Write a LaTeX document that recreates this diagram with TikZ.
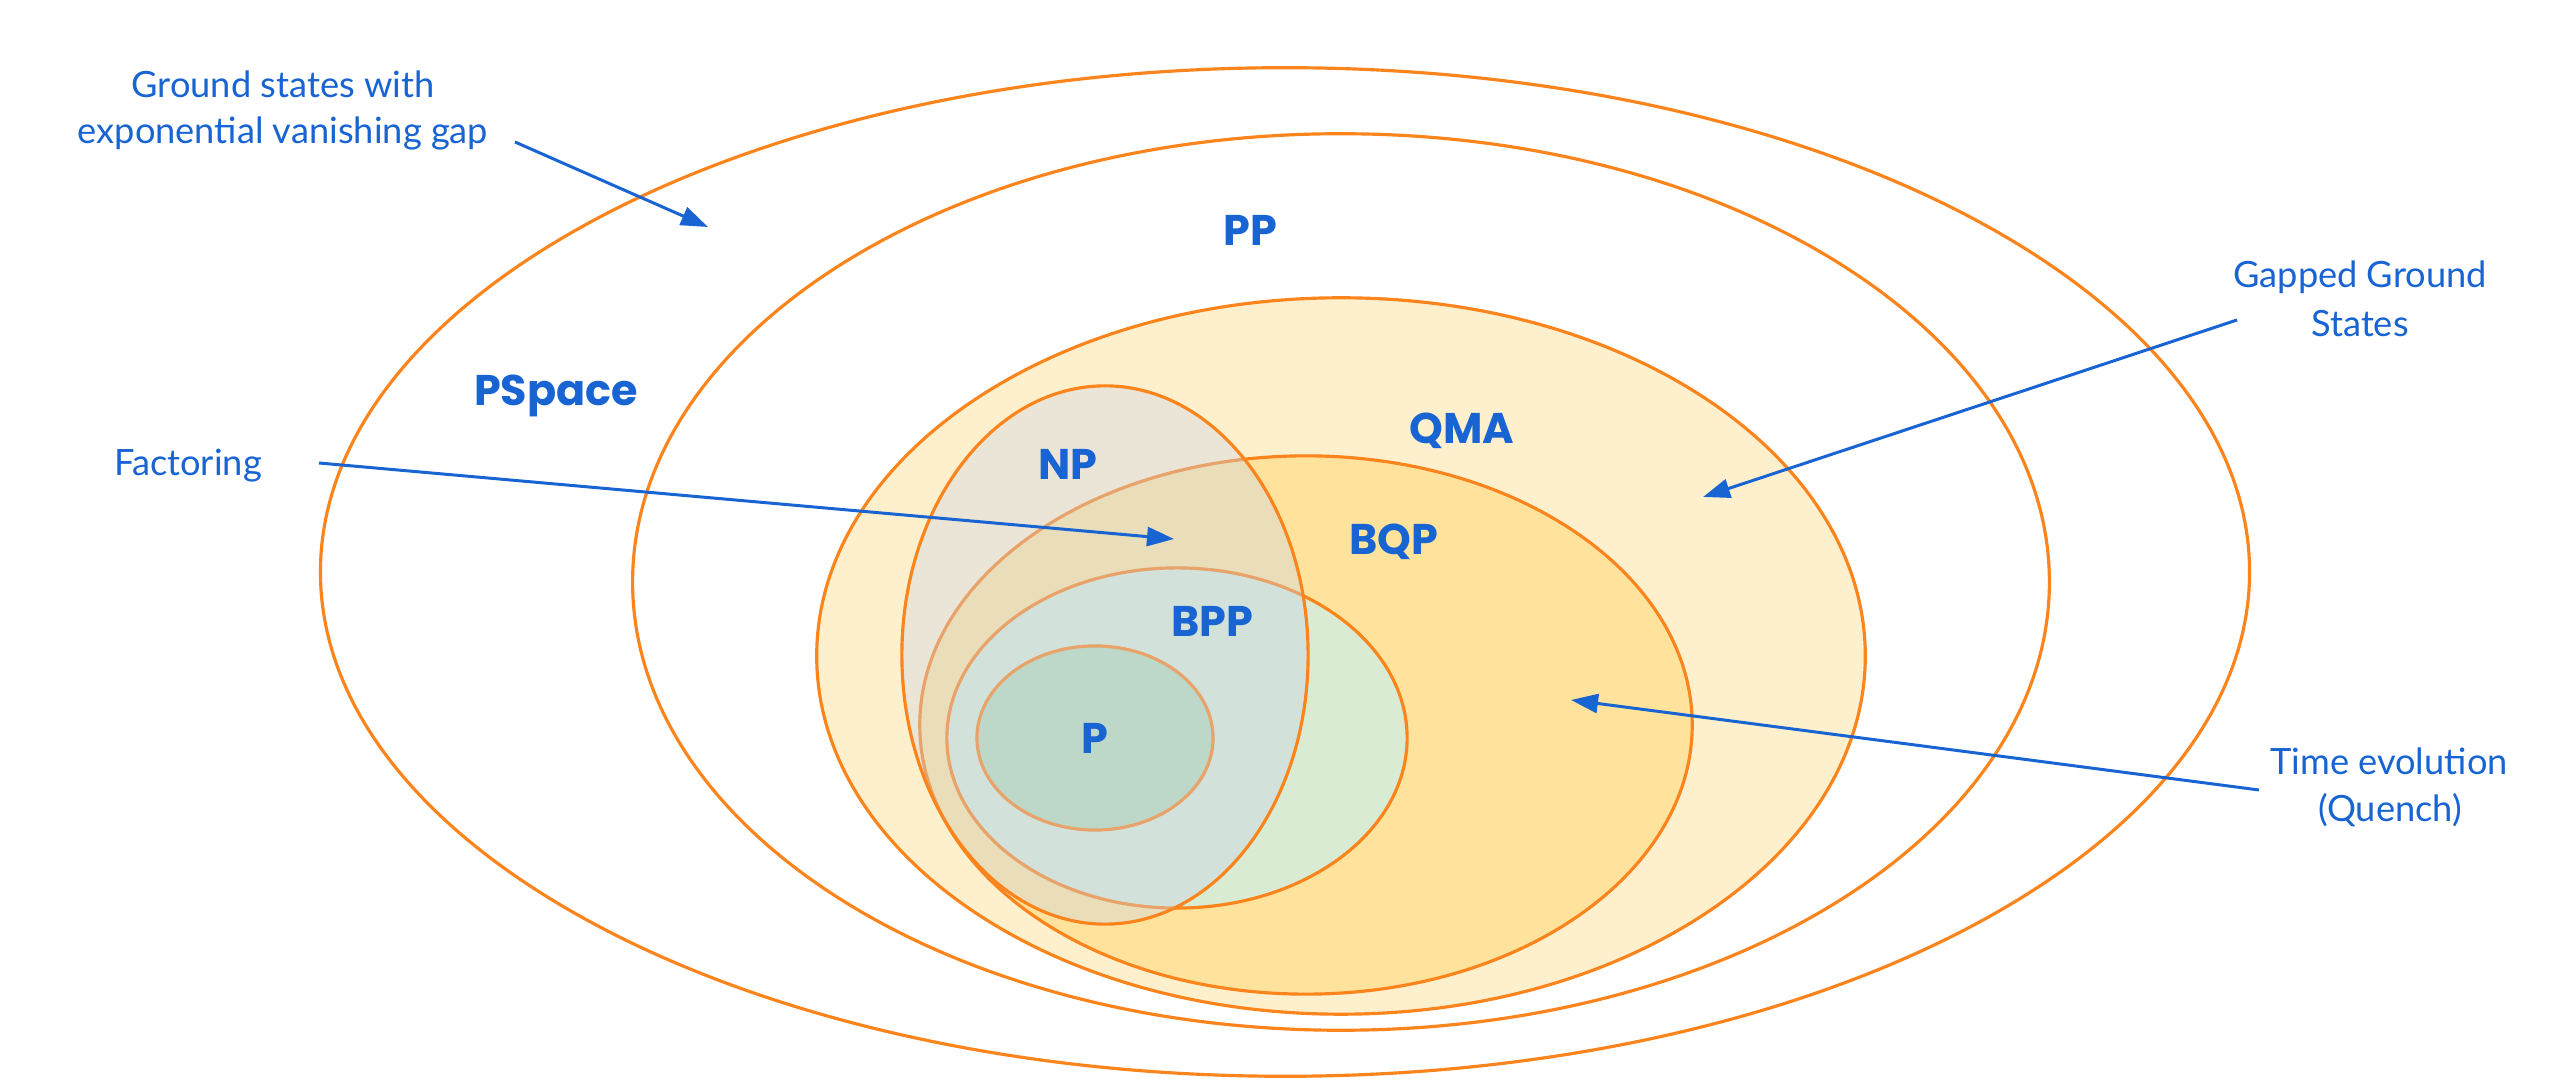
\documentclass[tikz,border=0pt]{standalone}
\usepackage{fontspec}
\setmainfont{Lato}
\newfontfamily\labelfont{Poppins}
\usetikzlibrary{arrows.meta}
\definecolor{orng}{RGB}{251,133,28}
\definecolor{gblue}{RGB}{24,100,210}
\definecolor{qmafill}{RGB}{255,240,205}
\definecolor{bqpfill}{RGB}{255,227,157}
\definecolor{bppfill}{RGB}{217,235,211}
\definecolor{pfill}{RGB}{183,218,181}
\definecolor{npfill}{RGB}{201,212,231}
\tikzset{
  setline/.style={draw=orng, line width=0.9pt},
  classlbl/.style={text=gblue, font=\labelfont\bfseries\fontsize{12.2}{14}\selectfont, anchor=base, inner sep=0pt},
  annot/.style={text=gblue, font=\fontsize{10.3}{13.5}\selectfont, anchor=base, inner sep=0pt},
  pointer/.style={draw=gblue, line width=0.85pt, -{Triangle[length=0.27cm,width=0.19cm]}}
}
\begin{document}
\begin{tikzpicture}[x=0.01cm,y=-0.01cm]
\useasboundingbox[fill=white] (0,0) rectangle (2556,1092);
% PSpace
\draw[setline] (1285,572) ellipse [x radius=9.64cm, y radius=5.04cm];
% PP
\draw[setline] (1341,582) ellipse [x radius=7.08cm, y radius=4.48cm];
% QMA
\draw[setline, fill=qmafill] (1341,656) ellipse [x radius=5.24cm, y radius=3.58cm];
% BQP
\draw[setline, fill=bqpfill] (1306,725) ellipse [x radius=3.86cm, y radius=2.69cm];
% BPP
\draw[setline, fill=bppfill] (1177,738) ellipse [x radius=2.30cm, y radius=1.70cm];
% P
\draw[setline, fill=pfill] (1095,738) ellipse [x radius=1.18cm, y radius=0.92cm];
% NP (translucent)
\fill[npfill, fill opacity=0.38] (1105,655) ellipse [x radius=2.03cm, y radius=2.69cm];
\draw[setline] (1105,655) ellipse [x radius=2.03cm, y radius=2.69cm];

% class labels
\node[classlbl] (pp) at (1250,246) {PP};
\node[classlbl] (pspace) at (556,406) {PSpace};
\node[classlbl] (qma) at (1462,444) {QMA};
\node[classlbl] (np) at (1068,480) {NP};
\node[classlbl] (bqp) at (1394,555) {BQP};
\node[classlbl] (bpp) at (1212,637) {BPP};
\node[classlbl] (p) at (1095,754) {P};

% annotations
\node[annot] (gs1) at (283,98) {Ground states with};
\node[annot] (gs2) at (283,144) {exponential vanishing gap};
\node[annot] (fac) at (188,476) {Factoring};
\node[annot] (gg1) at (2360,288) {Gapped Ground};
\node[annot] (gg2) at (2360,337) {States};
\node[annot] (te1) at (2389,775) {Time evolution};
\node[annot] (te2) at (2390,822) {(Quench)};

% arrow end points
\coordinate (gsS) at (515,142);
\coordinate (gsT) at (708,227);
\coordinate (facS) at (319,463);
\coordinate (facT) at (1174,539);
\coordinate (ggS) at (2237,320);
\coordinate (ggT) at (1703,497);
\coordinate (teS) at (2259,790);
\coordinate (teT) at (1571,700);

\draw[pointer] (gsS) -- (gsT);
\draw[pointer] (facS) -- (facT);
\draw[pointer] (ggS) -- (ggT);
\draw[pointer] (teS) -- (teT);
\end{tikzpicture}
\end{document}
